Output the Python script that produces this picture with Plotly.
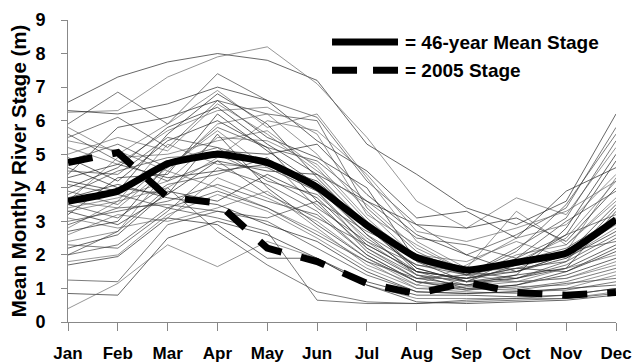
import plotly.graph_objects as go

months = ["Jan", "Feb", "Mar", "Apr", "May", "Jun", "Jul", "Aug", "Sep", "Oct", "Nov", "Dec"]

mean_stage = [3.60, 3.90, 4.72, 5.00, 4.75, 4.02, 2.88, 1.92, 1.55, 1.78, 2.05, 3.05]
stage_2005 = [4.75, 5.05, 3.72, 3.55, 2.20, 1.80, 1.15, 0.84, 1.18, 0.88, 0.80, 0.88]

year_stages = [
    [6.55, 7.30, 7.75, 8.00, 7.80, 7.20, 5.30, 4.40, 3.40, 2.90, 3.60, 6.20],
    [6.25, 6.30, 7.30, 7.90, 8.20, 7.10, 5.50, 3.60, 2.80, 3.70, 3.20, 5.20],
    [5.90, 6.85, 5.90, 7.40, 6.60, 6.10, 4.20, 2.90, 2.00, 2.60, 3.40, 5.80],
    [6.30, 6.20, 6.50, 7.00, 6.60, 5.40, 4.50, 3.10, 3.30, 2.50, 3.90, 4.60],
    [5.80, 5.00, 5.90, 6.90, 5.80, 6.20, 4.30, 2.40, 1.60, 3.30, 2.30, 3.60],
    [5.50, 6.10, 5.20, 6.60, 6.20, 6.00, 3.40, 2.10, 1.40, 2.20, 3.10, 5.40],
    [4.40, 5.80, 6.10, 6.60, 5.50, 4.90, 4.00, 1.80, 1.20, 1.70, 2.60, 4.80],
    [5.20, 4.70, 5.70, 6.30, 6.40, 5.60, 3.20, 2.30, 1.50, 1.60, 2.10, 4.30],
    [4.80, 5.30, 4.60, 5.80, 5.20, 4.80, 3.60, 2.50, 2.30, 1.90, 3.00, 3.90],
    [4.20, 3.90, 5.60, 6.80, 5.90, 4.30, 2.80, 1.60, 1.20, 1.40, 1.60, 3.30],
    [3.60, 4.90, 5.00, 5.40, 5.70, 4.60, 3.00, 2.00, 1.80, 2.40, 1.90, 2.80],
    [3.90, 3.50, 4.80, 5.20, 4.20, 3.80, 2.50, 1.50, 1.10, 1.30, 1.70, 2.50],
    [3.20, 4.30, 4.40, 6.20, 5.10, 4.10, 2.60, 1.40, 1.00, 1.10, 1.50, 2.20],
    [2.80, 3.60, 5.30, 4.70, 4.60, 3.90, 2.20, 1.30, 1.30, 2.00, 2.30, 3.70],
    [3.50, 3.10, 4.10, 4.40, 4.90, 3.40, 2.40, 1.70, 1.50, 1.30, 1.80, 2.60],
    [4.60, 4.00, 3.80, 5.60, 4.00, 2.90, 1.90, 1.20, 0.95, 1.10, 1.40, 1.90],
    [2.40, 2.70, 4.50, 5.90, 6.20, 5.00, 3.30, 1.90, 1.40, 1.50, 2.00, 2.90],
    [3.00, 3.30, 3.60, 4.10, 3.60, 3.20, 2.00, 1.20, 1.10, 1.00, 1.20, 1.60],
    [2.20, 2.60, 3.90, 3.60, 4.40, 3.70, 2.30, 1.50, 1.30, 1.60, 1.50, 2.10],
    [1.80, 2.00, 3.20, 3.80, 3.30, 2.50, 1.60, 1.00, 0.90, 0.85, 1.00, 1.40],
    [1.25, 1.20, 2.90, 3.30, 3.00, 2.20, 1.40, 0.90, 0.85, 0.90, 0.95, 1.20],
    [0.85, 0.80, 2.50, 3.00, 2.60, 1.90, 1.20, 0.80, 0.80, 0.75, 0.80, 1.00],
    [0.40, 1.15, 2.30, 1.65, 2.40, 1.90, 1.10, 0.70, 0.70, 0.70, 0.70, 0.90],
    [2.00, 2.70, 4.00, 2.70, 1.70, 0.90, 0.60, 0.55, 0.60, 0.65, 0.70, 0.85],
    [1.70, 1.95, 3.10, 2.90, 1.90, 1.90, 1.10, 0.60, 0.55, 0.60, 0.65, 0.80],
    [5.40, 5.10, 4.50, 4.00, 3.40, 2.70, 1.80, 1.00, 1.05, 1.20, 1.30, 1.80],
    [4.10, 3.80, 3.40, 3.10, 2.70, 0.65, 0.55, 0.55, 0.65, 0.70, 0.80, 1.00],
    [3.30, 2.90, 3.80, 4.80, 4.50, 4.40, 3.60, 2.90, 2.80, 3.10, 2.40, 4.00],
    [2.60, 3.20, 3.00, 3.40, 3.90, 2.80, 1.70, 1.10, 1.70, 2.50, 2.90, 4.40],
    [3.80, 4.50, 4.90, 5.00, 4.30, 3.50, 2.20, 1.40, 1.20, 1.90, 2.60, 3.20],
    [4.90, 4.20, 5.40, 6.00, 5.20, 3.60, 2.10, 1.30, 1.10, 1.40, 2.80, 5.00],
    [3.40, 3.70, 4.20, 5.50, 5.40, 4.70, 3.10, 1.80, 1.40, 1.20, 1.30, 1.70],
    [2.90, 3.40, 3.50, 3.30, 3.10, 3.60, 2.70, 2.00, 1.60, 1.80, 2.20, 3.10],
    [4.30, 4.70, 4.30, 4.50, 4.70, 4.20, 2.90, 1.60, 1.20, 1.30, 1.60, 2.30],
    [3.10, 2.80, 3.10, 4.30, 3.70, 3.00, 1.90, 1.10, 0.95, 1.05, 1.10, 1.50],
    [2.30, 2.20, 3.30, 4.60, 4.10, 3.30, 2.00, 1.20, 1.00, 0.95, 1.15, 1.30],
    [3.70, 4.10, 3.70, 3.50, 2.90, 2.40, 1.50, 0.90, 0.85, 0.90, 1.00, 1.10],
    [5.00, 5.50, 5.10, 6.50, 5.60, 4.50, 3.50, 2.20, 1.50, 1.80, 2.50, 4.20],
    [4.50, 4.40, 5.50, 5.20, 4.80, 4.00, 2.60, 1.70, 1.40, 2.10, 3.50, 5.60],
    [2.70, 3.00, 4.70, 5.10, 5.00, 5.30, 3.80, 2.60, 2.00, 1.50, 1.90, 2.70],
    [3.30, 3.60, 4.00, 4.90, 6.00, 5.70, 4.40, 2.70, 2.40, 2.80, 3.30, 4.20],
    [2.00, 2.30, 3.40, 3.90, 3.40, 2.60, 1.80, 1.30, 1.40, 1.70, 2.10, 2.40],
    [4.00, 4.60, 5.80, 6.40, 5.30, 4.40, 2.90, 1.50, 1.30, 1.50, 2.00, 3.50],
    [3.60, 3.40, 4.60, 5.70, 4.60, 3.90, 2.40, 1.40, 1.20, 1.20, 1.60, 2.00],
    [5.60, 4.80, 4.20, 4.80, 3.80, 3.10, 2.30, 1.50, 1.30, 1.60, 1.80, 3.40],
]

legend_labels = ["= 46-year Mean Stage", "= 2005 Stage"]
y_ticks = list(range(0, 10))

FONT = "Liberation Sans, Arial, sans-serif"
x_idx = list(range(len(months)))

fig = go.Figure()

gray_shades = ["rgba(30,30,30,0.85)", "rgba(100,100,100,0.85)", "rgba(60,60,60,0.85)"]
for i, ys in enumerate(year_stages):
    fig.add_trace(go.Scatter(
        x=x_idx, y=ys, mode="lines",
        line=dict(color=gray_shades[i % 3], width=0.8),
        hoverinfo="skip", showlegend=False,
    ))

fig.add_trace(go.Scatter(
    x=x_idx, y=mean_stage, mode="lines",
    line=dict(color="black", width=7, shape="spline", smoothing=0.4),
    showlegend=False,
))
fig.add_trace(go.Scatter(
    x=x_idx, y=stage_2005, mode="lines",
    line=dict(color="black", width=7, dash="25px,20px"),
    showlegend=False,
))

# legend drawn manually (line samples + text)
fig.add_shape(type="line", xref="paper", yref="paper",
              x0=0.4818, x1=0.6022, y0=0.927, y1=0.927,
              line=dict(color="black", width=7))
fig.add_shape(type="line", xref="paper", yref="paper",
              x0=0.4818, x1=0.6022, y0=0.834, y1=0.834,
              line=dict(color="black", width=7, dash="25px,16px"))
for lbl, yp in zip(legend_labels, [0.927, 0.834]):
    fig.add_annotation(text=f"<b>{lbl}</b>", xref="paper", yref="paper",
                       x=0.612, y=yp, xanchor="left", yanchor="middle",
                       showarrow=False, font=dict(family=FONT, size=19, color="black"))

fig.update_layout(
    width=634, height=362,
    margin=dict(l=68, r=18, t=20, b=40),
    paper_bgcolor="white", plot_bgcolor="white",
    font=dict(family=FONT, color="black"),
    showlegend=False,
)
fig.update_xaxes(
    range=[0, 11], tickmode="array", tickvals=x_idx,
    ticktext=[f"<b>{m}</b>" for m in months],
    showline=True, linecolor="#888", linewidth=1,
    ticks="outside", ticklen=8, tickcolor="#888",
    showgrid=False, zeroline=False, ticklabelstandoff=8,
    automargin=False,
    tickfont=dict(family=FONT, size=17, color="black"),
)
fig.update_yaxes(
    range=[0, 9], tickmode="array", tickvals=y_ticks,
    ticktext=[f"<b>{v}</b>" for v in y_ticks],
    showline=True, linecolor="#888", linewidth=1,
    ticks="outside", ticklen=6, tickcolor="#888",
    showgrid=False, zeroline=False, ticklabelstandoff=12,
    automargin=False,
    tickfont=dict(family=FONT, size=18, color="black"),
    title=dict(text="<b>Mean Monthly River Stage (m)</b>",
               font=dict(family=FONT, size=20.5, color="black"), standoff=3),
)

fig.write_html(
    "out.html",
    config={"displayModeBar": False, "staticPlot": True},
    post_script="document.body.style.margin='0';document.body.style.overflow='hidden';",
)
